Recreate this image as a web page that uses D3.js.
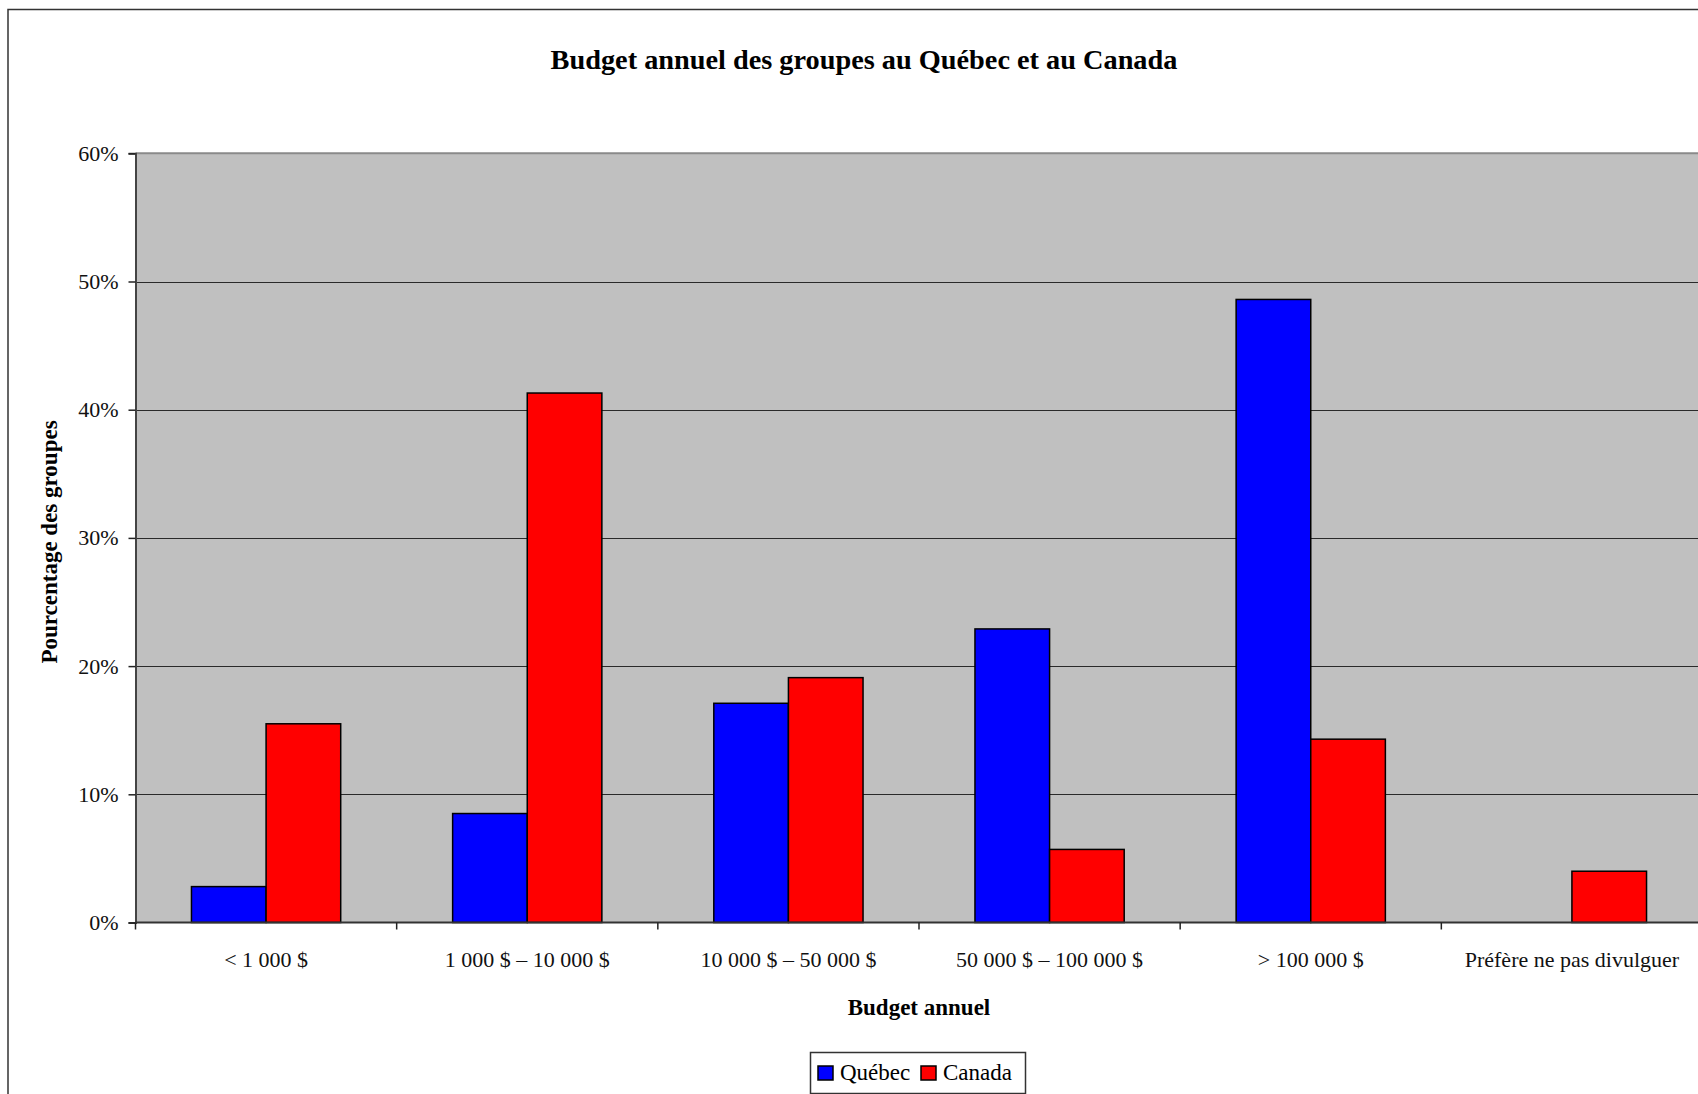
<!DOCTYPE html>
<html>
<head>
<meta charset="utf-8">
<script src="https://cdn.jsdelivr.net/npm/d3@7"></script>
<style>
    body { margin: 0; background: #fff; }
    svg { display: block; font-family: "Liberation Serif", "DejaVu Serif", serif; }
    .tick text { fill: #111; }
</style>
</head>
<body>
<div id="chart"></div>
<script>
// values (percent of groups)
const categories = ['< 1 000 $', '1 000 $ – 10 000 $', '10 000 $ – 50 000 $', '50 000 $ – 100 000 $', '> 100 000 $', 'Préfère ne pas divulguer'];
const seriesNames = ['Québec', 'Canada'];
const quebec = [2.8, 8.5, 17.1, 22.9, 48.6, null];
const canada = [15.5, 41.3, 19.1, 5.7, 14.3, 4.0];
const yTicks = [0, 10, 20, 30, 40, 50, 60];
const colors = ['#0000ff', '#ff0000'];

const W = 1698, H = 1094;
const plot = { left: 135.5, right: 1702.5, top: 153.3, bottom: 922.5 };

const svg = d3.select('#chart').append('svg')
    .attr('width', W)
    .attr('height', H);

// outer chart frame (runs off the right and bottom edges)
svg.append('rect')
    .attr('x', 8).attr('y', 9.5)
    .attr('width', W + 20).attr('height', H + 20)
    .attr('fill', '#fff')
    .attr('stroke', '#333')
    .attr('stroke-width', 1.5);

svg.append('text')
    .attr('x', 864)
    .attr('y', 69)
    .attr('text-anchor', 'middle')
    .attr('font-size', 28.3)
    .attr('font-weight', 'bold')
    .text('Budget annuel des groupes au Québec et au Canada');

const x0 = d3.scaleBand()
    .domain(categories)
    .range([plot.left, plot.right]);

// excel-style gap width of 150%
const barW = x0.bandwidth() / 3.5;
const x1 = d3.scaleBand()
    .domain(seriesNames)
    .range([0.75 * barW, 2.75 * barW]);

const y = d3.scaleLinear()
    .domain([0, 60])
    .range([plot.bottom, plot.top]);

svg.append('rect')
    .attr('x', plot.left)
    .attr('y', plot.top)
    .attr('width', plot.right - plot.left)
    .attr('height', plot.bottom - plot.top)
    .attr('fill', '#c0c0c0');

// gridlines
svg.append('g')
    .selectAll('line')
    .data(yTicks.slice(1, -1))
    .join('line')
    .attr('x1', plot.left)
    .attr('x2', plot.right)
    .attr('y1', d => Math.round(y(d)) + 0.5)
    .attr('y2', d => Math.round(y(d)) + 0.5)
    .attr('stroke', '#2a2a2a')
    .attr('stroke-width', 1);

svg.append('line')
    .attr('x1', plot.left).attr('x2', plot.right)
    .attr('y1', plot.top).attr('y2', plot.top)
    .attr('stroke', '#8a8a8a')
    .attr('stroke-width', 2);

const rows = categories.map((c, i) => ({ cat: c, values: [quebec[i], canada[i]] }));

svg.append('g')
    .selectAll('g')
    .data(rows)
    .join('g')
    .attr('transform', d => `translate(${x0(d.cat)},0)`)
    .selectAll('rect')
    .data(d => d.values.map((v, k) => ({ name: seriesNames[k], v: v, k: k })).filter(e => e.v != null))
    .join('rect')
    .attr('x', d => x1(d.name))
    .attr('y', d => y(d.v))
    .attr('width', x1.bandwidth())
    .attr('height', d => y(0) - y(d.v))
    .attr('fill', d => colors[d.k])
    .attr('stroke', '#000')
    .attr('stroke-width', 1.5);

// y axis
const yAxis = svg.append('g')
    .attr('transform', `translate(${plot.left},0)`)
    .call(d3.axisLeft(y)
        .tickValues(yTicks)
        .tickFormat(d => d + '%')
        .tickSize(7)
        .tickPadding(10));
yAxis.select('.domain').attr('stroke', '#444').attr('stroke-width', 2);
yAxis.selectAll('.tick line').attr('stroke', '#222').attr('stroke-width', 1.5);
yAxis.selectAll('.tick text')
    .attr('font-size', 22)
    .attr('font-family', '"Liberation Serif", serif');

// x axis, ticks on category boundaries
const xAxis = svg.append('g')
    .attr('transform', `translate(0,${plot.bottom})`)
    .call(d3.axisBottom(x0).tickSize(0).tickPadding(0));
xAxis.select('.domain').remove();
xAxis.selectAll('.tick text')
    .attr('y', 44)
    .attr('dy', 0)
    .attr('font-size', 22)
    .attr('font-family', '"Liberation Serif", serif');
xAxis.append('line')
    .attr('x1', plot.left).attr('x2', plot.right)
    .attr('stroke', '#333').attr('stroke-width', 2);
xAxis.selectAll('.bound')
    .data(categories)
    .join('line')
    .attr('class', 'bound')
    .attr('x1', d => x0(d)).attr('x2', d => x0(d))
    .attr('y1', 0).attr('y2', 7)
    .attr('stroke', '#222').attr('stroke-width', 1.5);

// axis titles
svg.append('text')
    .attr('x', 919)
    .attr('y', 1015)
    .attr('text-anchor', 'middle')
    .attr('font-size', 23)
    .attr('font-weight', 'bold')
    .text('Budget annuel');

svg.append('text')
    .attr('transform', 'translate(57,542) rotate(-90)')
    .attr('text-anchor', 'middle')
    .attr('font-size', 23)
    .attr('font-weight', 'bold')
    .text('Pourcentage des groupes');

// legend
const legend = svg.append('g');
legend.append('rect')
    .attr('x', 810.5).attr('y', 1052.5)
    .attr('width', 215).attr('height', 41)
    .attr('fill', '#fff')
    .attr('stroke', '#333')
    .attr('stroke-width', 1.5);
const legendX = [818, 921];
const items = legend.selectAll('g.item')
    .data(seriesNames)
    .join('g')
    .attr('class', 'item')
    .attr('transform', (d, i) => `translate(${legendX[i]},1066)`);
items.append('rect')
    .attr('width', 15).attr('height', 14)
    .attr('fill', (d, i) => colors[i])
    .attr('stroke', '#000')
    .attr('stroke-width', 1.5);
items.append('text')
    .attr('x', 22)
    .attr('y', 14)
    .attr('font-size', 23)
    .text(d => d);
</script>
</body>
</html>
